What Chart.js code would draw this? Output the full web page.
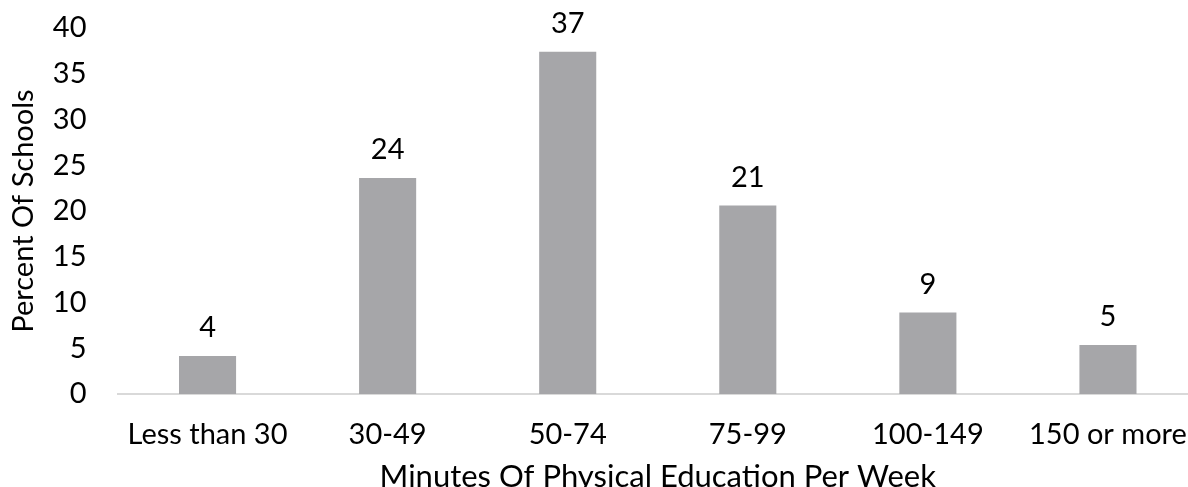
<!DOCTYPE html>
<html>
<head>
<meta charset="utf-8">
<script src="https://cdn.jsdelivr.net/npm/chart.js@4/dist/chart.umd.min.js"></script>
<style>
  html, body { margin: 0; padding: 0; background: #fff; overflow: hidden; }
  #wrap { width: 1198px; height: 487px; }
</style>
</head>
<body>
<div id="wrap"><canvas id="chart" width="1198" height="487"></canvas></div>
<script>
const categories = ['Less than 30', '30-49', '50-74', '75-99', '100-149', '150 or more'];
const percents = [4.15, 23.6, 37.4, 20.6, 8.9, 5.35];
const valueLabels = ['4', '24', '37', '21', '9', '5'];
const yTicks = [0, 5, 10, 15, 20, 25, 30, 35, 40];

const FONT = 'Lato, "Open Sans", sans-serif';

// draws the number above each bar
const barLabels = {
    id: 'barLabels',
    afterDatasetsDraw(chart) {
        const ctx = chart.ctx;
        const meta = chart.getDatasetMeta(0);
        ctx.save();
        ctx.font = '29px ' + FONT;
        ctx.fillStyle = '#000';
        ctx.textAlign = 'center';
        ctx.textBaseline = 'middle';
        meta.data.forEach((bar, i) => {
            ctx.fillText(valueLabels[i], bar.x, bar.y - 28);
        });
        ctx.restore();
    }
};

// no extra room for overflowing tick labels, sizes are fixed
function noPad(scale) {
    scale.paddingTop = 0; scale.paddingBottom = 0;
    scale.paddingLeft = 0; scale.paddingRight = 0;
}

new Chart(document.getElementById('chart'), {
    type: 'bar',
    data: {
        labels: categories,
        datasets: [{
            data: percents,
            backgroundColor: '#a6a6a9',
            borderWidth: 0,
            categoryPercentage: 1,
            barPercentage: 0.317
        }]
    },
    options: {
        responsive: false,
        animation: false,
        events: [],
        layout: { padding: { top: 28, left: 6, right: 0, bottom: 0 } },
        plugins: { legend: { display: false }, tooltip: { enabled: false } },
        scales: {
            x: {
                grid: { display: false, drawTicks: false },
                border: { color: '#d9d9d9', width: 2 },
                ticks: { color: '#000', font: { family: FONT, size: 29 }, padding: 23, maxRotation: 0 },
                title: { display: true, text: 'Minutes Of Physical Education Per Week', color: '#000',
                         font: { family: FONT, size: 31, lineHeight: 0.65 }, padding: { top: 0, bottom: 0 } },
                afterFit(scale) { scale.height = 93; noPad(scale); }
            },
            y: {
                min: 0, max: 40,
                afterBuildTicks(scale) { scale.ticks = yTicks.map(v => ({ value: v })); },
                grid: { display: false, drawTicks: false },
                border: { display: false },
                ticks: { color: '#000', font: { family: FONT, size: 29 }, padding: 31 },
                title: { display: true, text: 'Percent Of Schools', color: '#000',
                         font: { family: FONT, size: 29 }, padding: { top: 0, bottom: 0 } },
                afterFit(scale) { scale.width = 111.5; noPad(scale); }
            }
        }
    },
    plugins: [barLabels]
});
</script>
</body>
</html>
